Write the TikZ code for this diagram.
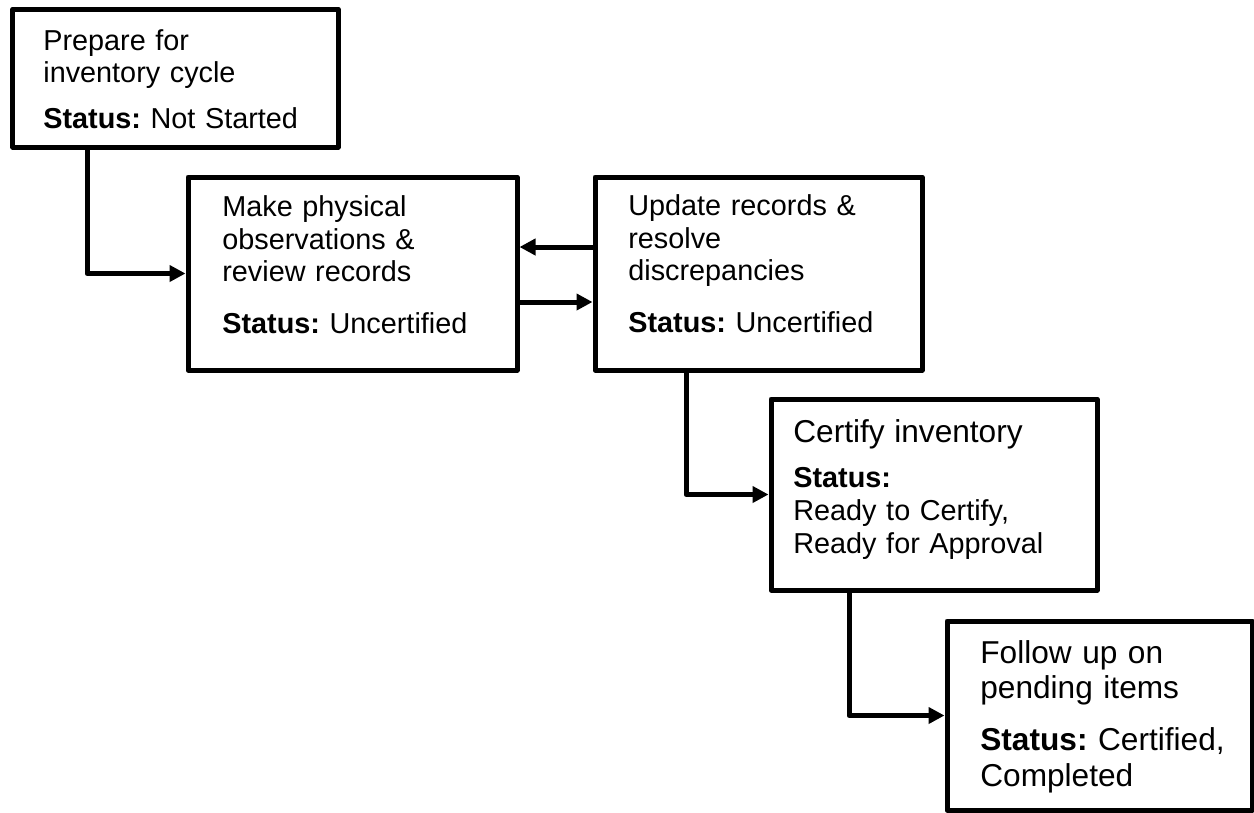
\documentclass[tikz,border=0pt]{standalone}
\usepackage{fontspec}
\setmainfont{Liberation Sans}
\frenchspacing
\usepackage{tikz}
\usetikzlibrary{arrows.meta}

\newcommand{\bigline}{\fontsize{18}{20.4}\selectfont}

\begin{document}
\begin{tikzpicture}[
  box/.style={draw, line width=0.1cm, line join=round, inner sep=0pt},
  txt/.style={anchor=base west, inner sep=0pt, text width=5.9cm, align=left,
              font=\fontsize{16.4}{18.6}\selectfont},
  bigtxt/.style={txt, font=\bigline},
  arr/.style={line width=0.1cm, line join=round, -{Triangle[length=0.32cm,width=0.32cm]}}
]
\useasboundingbox (0,0) rectangle (25.08,-16.24);

% Boxes
\node[box, minimum width=6.5cm,  minimum height=2.76cm] (prep)    at (3.51,-1.56)  {};
\node[box, minimum width=6.58cm, minimum height=3.86cm] (observe) at (7.05,-5.47)  {};
\node[box, minimum width=6.54cm, minimum height=3.86cm] (update)  at (15.17,-5.47) {};
\node[box, minimum width=6.52cm, minimum height=3.82cm] (certify) at (18.68,-9.89) {};
\node[box, minimum width=6.1cm,  minimum height=3.78cm] (follow)  at (21.99,-14.31) {};

% Labels
\node[txt] (prepT) at (0.86,-1.0)
  {Prepare for\\ inventory cycle\\[7.5pt] \textbf{Status:} Not Started};
\node[txt] (observeT) at (4.44,-4.33)
  {Make physical\\ observations \&\\ review records\\[10.5pt] \textbf{Status:} Uncertified};
\node[txt] (updateT) at (12.56,-4.31)
  {Update records \&\\ resolve\\ discrepancies\\[10.5pt] \textbf{Status:} Uncertified};
\node[txt] (certifyT) at (15.86,-8.84)
  {{\bigline Certify inventory}\\[7.5pt] \textbf{Status:}\\ Ready to Certify,\\ Ready for Approval};
\node[bigtxt] (followT) at (19.6,-13.26)
  {Follow up on\\ pending items\\[9pt] \textbf{Status:} Certified,\\ Completed};

% Arrows
\draw[arr] ([xshift=-1.77cm]prep.south) |- (observe.west);
\draw[arr] ([yshift=0.53cm]update.west) -- ([yshift=0.53cm]observe.east);
\draw[arr] ([yshift=-0.57cm]observe.east) -- ([yshift=-0.57cm]update.west);
\draw[arr] ([xshift=-1.45cm]update.south) |- (certify.west);
\draw[arr] ([xshift=-1.7cm]certify.south) |- (follow.west);

\end{tikzpicture}
\end{document}
